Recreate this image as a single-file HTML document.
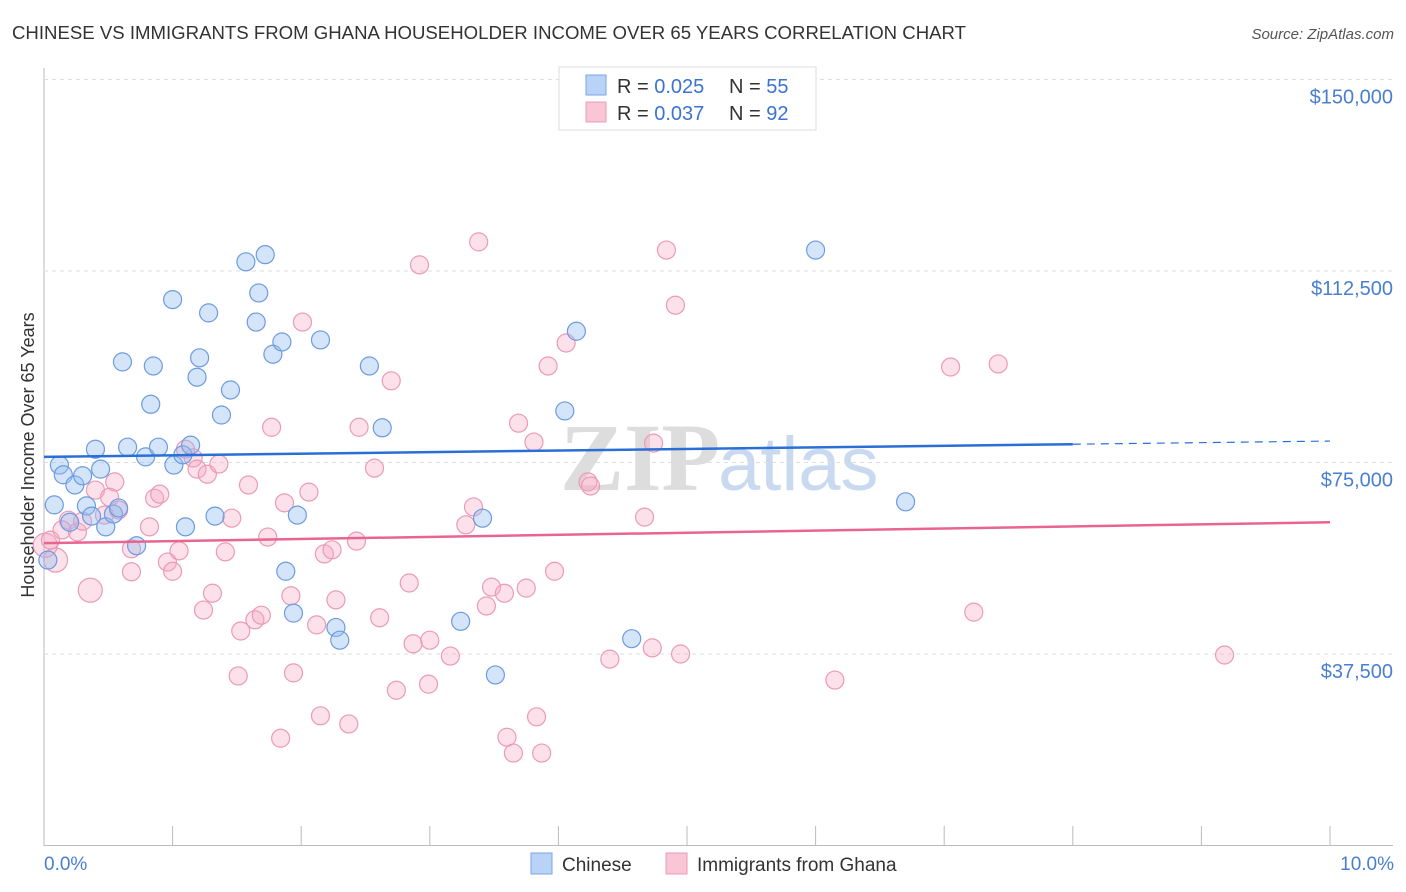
<!DOCTYPE html>
<html><head><meta charset="utf-8">
<style>
body{margin:0;background:#fff;font-family:"Liberation Sans",sans-serif;}
#wrap{position:relative;width:1406px;height:892px;overflow:hidden;}
</style></head>
<body>
<div id="wrap">
<svg id="chart" width="1406" height="892" xmlns="http://www.w3.org/2000/svg">
<text x="12" y="39" font-size="18" fill="#333" textLength="954" lengthAdjust="spacingAndGlyphs">CHINESE VS IMMIGRANTS FROM GHANA HOUSEHOLDER INCOME OVER 65 YEARS CORRELATION CHART</text>
<text x="1394" y="39" font-size="15" fill="#555" font-style="italic" text-anchor="end">Source: ZipAtlas.com</text>
<text x="720" y="490" font-size="96" fill="#ddd" font-family="Liberation Serif,serif" text-anchor="end" font-weight="bold">ZIP</text>
<text x="718" y="490" font-size="76" fill="#c9daf0">atlas</text>
<text transform="translate(34,455) rotate(-90)" font-size="18" fill="#333" text-anchor="middle">Householder Income Over 65 Years</text>
<g id="grid"></g><g id="pts"></g><g id="lines"></g>
<text x="44" y="870" font-size="19" fill="#4a7fd0">0.0%</text>
<text x="1394" y="870" font-size="19" fill="#4a7fd0" text-anchor="end">10.0%</text>
<g>
<rect x="559" y="67" width="257" height="63" fill="#fff" stroke="#ddd"/>
<rect x="586" y="75" width="20" height="20" fill="#b8d3f5" stroke="#7aa6e6"/>
<rect x="586" y="102" width="20" height="20" fill="#f9c6d6" stroke="#ec9ab5"/>
<text x="617" y="93" font-size="20" fill="#333">R = <tspan fill="#3b73d1">0.025</tspan><tspan x="729">N = </tspan><tspan fill="#3b73d1">55</tspan></text>
<text x="617" y="120" font-size="20" fill="#333">R = <tspan fill="#3b73d1">0.037</tspan><tspan x="729">N = </tspan><tspan fill="#3b73d1">92</tspan></text>
</g>
<g>
<rect x="531" y="853" width="21" height="21" fill="#b8d3f5" stroke="#7aa6e6"/>
<text x="562" y="871" font-size="19" fill="#333">Chinese</text>
<rect x="666" y="853" width="21" height="21" fill="#f9c6d6" stroke="#ec9ab5"/>
<text x="697" y="871" font-size="19" fill="#333">Immigrants from Ghana</text>
</g>
</svg>
</div>
<script>
const yTicks=[37500,75000,112500,150000];
const yTickLabels=["$37,500","$75,000","$112,500","$150,000"];
const xTicks=[0,1,2,3,4,5,6,7,8,9,10];
const chineseX=[0.08,0.03,0.12,0.15,0.24,0.20,0.40,0.44,0.30,0.33,0.37,0.48,0.54,0.58,0.65,0.72,0.79,0.89,1.01,1.08,1.14,1.10,1.33,0.61,0.85,0.83,1.00,1.21,1.19,1.28,1.45,1.38,1.57,1.72,1.67,1.65,1.78,1.85,2.15,1.97,1.88,1.94,2.27,2.30,2.53,2.63,3.24,3.41,3.51,4.05,4.14,4.57,6.00,6.70];
const chineseY=[66.7,55.9,74.5,72.6,70.6,63.3,77.6,73.7,72.4,66.5,64.5,62.4,64.9,66.1,78.0,58.7,76.1,78.0,74.5,76.5,78.4,62.4,64.5,94.7,93.9,86.4,106.9,95.5,91.7,104.3,89.2,84.3,114.3,115.7,108.2,102.5,96.2,98.6,99.0,64.7,53.7,45.5,42.7,40.2,93.9,81.8,43.9,64.1,33.4,85.1,100.7,40.5,116.6,67.3];
const ghanaX=[0.09,0.01,0.05,0.19,0.26,0.40,0.47,0.55,0.51,0.58,0.68,0.68,0.82,0.86,0.90,0.96,1.00,1.05,1.10,1.16,1.19,1.27,1.36,1.41,1.46,1.24,1.31,1.53,1.64,1.69,1.51,1.59,1.74,1.77,1.84,1.87,1.92,1.94,2.01,2.06,2.15,2.12,2.18,2.24,2.27,2.37,2.43,2.45,2.57,2.61,2.70,2.74,2.84,2.87,2.92,2.99,3.00,3.16,3.28,3.34,3.38,3.44,3.48,3.58,3.60,3.65,3.69,3.75,3.81,3.83,3.87,3.92,3.97,4.06,4.23,4.25,4.40,4.67,4.73,4.74,4.84,4.91,4.95,6.15,7.05,7.23,7.42,9.18,0.36,0.14,0.30];
const ghanaY=[55.9,58.8,59.8,63.7,61.4,69.6,64.7,71.2,68.2,65.7,58.1,53.6,62.4,68.0,68.8,55.5,53.7,57.7,77.6,75.9,73.7,72.7,74.7,57.5,64.1,46.1,49.4,42.0,44.2,45.1,33.2,70.6,60.4,81.9,21.0,67.1,48.9,33.8,102.5,69.2,25.4,43.2,57.1,57.9,48.1,23.8,59.6,81.9,73.9,44.6,91.0,30.4,51.4,39.5,113.7,31.6,40.2,37.1,62.8,66.3,118.2,46.9,50.6,49.4,21.2,18.1,82.7,50.4,79.0,25.2,18.1,93.9,53.7,98.4,71.2,70.4,36.5,64.3,38.7,78.8,116.6,105.8,37.5,32.4,93.7,45.7,94.3,37.3,50.0,61.8,63.5];
const ghanaBig=[0,1,88];
const chineseTrend=[76.1,79.2];
const ghanaTrend=[59.2,63.3];
const NS="http://www.w3.org/2000/svg";
const xs=v=>44+v*128.6;
const ys=v=>845.5-v*191.5/37500;
function mk(tag,attrs,parent){const e=document.createElementNS(NS,tag);for(const k in attrs)e.setAttribute(k,attrs[k]);parent.appendChild(e);return e;}
const grid=document.getElementById('grid');
let ax=mk('line',{x1:44,y1:68,x2:44,y2:846,stroke:'#bbb'},grid);


let bx=mk('line',{x1:44,y1:845.5,x2:1393,y2:845.5,stroke:'#bbb'},grid);


yTicks.forEach((t,i)=>{
 const g=mk('line',{x1:44,y1:ys(t),x2:1393,y2:ys(t),stroke:'#ddd','stroke-dasharray':'4,4'},grid);
 
 
 const l=mk('text',{x:1393,y:ys(t)+24,'font-size':20,fill:'#4a7fd0','text-anchor':'end'},grid);
 l.textContent=yTickLabels[i];
 
 
});
xTicks.forEach(t=>{
 const k=mk('line',{x1:xs(t),y1:826,x2:xs(t),y2:845,stroke:'#bbb'},grid);
 
 
});
const pts=document.getElementById('pts');
ghanaX.forEach((x,i)=>{
 const c=mk('circle',{cx:xs(x),cy:ys(ghanaY[i]*1000),r:ghanaBig.includes(i)?12:9,fill:'rgba(246,168,194,0.35)',stroke:'#eb9ab6','stroke-width':1.2},pts);
 
 
});
chineseX.forEach((x,i)=>{
 const c=mk('circle',{cx:xs(x),cy:ys(chineseY[i]*1000),r:9,fill:'rgba(150,190,240,0.4)',stroke:'#6b9be0','stroke-width':1.2},pts);
 
 
});
const lines=document.getElementById('lines');
const cy=x=>chineseTrend[0]+(chineseTrend[1]-chineseTrend[0])*x/10;
let l1=mk('line',{x1:xs(0),y1:ys(cy(0)*1000),x2:xs(8),y2:ys(cy(8)*1000),stroke:'#2a6fd6','stroke-width':2.5},lines);


let l2=mk('line',{x1:xs(8),y1:ys(cy(8)*1000),x2:xs(10),y2:ys(cy(10)*1000),stroke:'#2a6fd6','stroke-width':1.2,'stroke-dasharray':'8,6'},lines);


let l3=mk('line',{x1:xs(0),y1:ys(ghanaTrend[0]*1000),x2:xs(10),y2:ys(ghanaTrend[1]*1000),stroke:'#e8658f','stroke-width':2.5},lines);


</script>
</body></html>
